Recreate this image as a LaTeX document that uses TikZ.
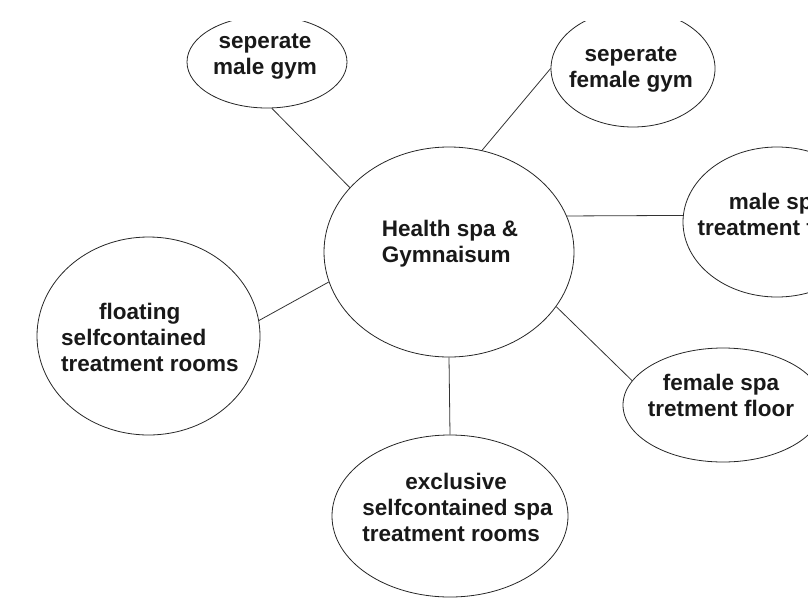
\documentclass[tikz,border=0pt]{standalone}
\usepackage{fontspec}
\setmainfont{Liberation Sans}
\usetikzlibrary{shapes.geometric}

\begin{document}
\begin{tikzpicture}[x=1pt, y=-1pt,
    bubble/.style={ellipse, draw=black!85, line width=0.8pt, inner sep=0pt},
    caption/.style={font=\fontsize{22.5}{26}\selectfont\bfseries, text=black!90, inner sep=0pt},
    link/.style={draw=black!80, line width=0.8pt}]
    \useasboundingbox (0,0) rectangle (808,600);
    \clip (0,21) rectangle (808,600);

    % Hub
    \node (spa) at (449,252) [bubble, minimum width=250pt, minimum height=210pt] {};
    \node (spaT) at (450,243.5) [caption, align=left] {Health spa \&\\Gymnaisum};

    % Gyms
    \node (gymM) at (267,62) [bubble, minimum width=160pt, minimum height=92pt] {};
    \node (gymMT) at (265,56.5) [caption, align=center] {seperate\\male gym};
    \node (gymF) at (633,68.5) [bubble, minimum width=164pt, minimum height=117pt] {};
    \node (gymFT) at (631,70) [caption, align=center] {seperate\\female gym};

    % Spa floors
    \node (spaM) at (777,222) [bubble, minimum width=188pt, minimum height=150pt] {};
    \node (spaMT) at (777,214.5) [caption, align=center] {male spa\\treatment floor};
    \node (spaF) at (723,405) [bubble, minimum width=200pt, minimum height=114pt] {};
    \node (spaFT) at (721,395.5) [caption, align=center] {female spa\\tretment floor};

    % Treatment rooms
    \node (roomsF) at (148.5,336) [bubble, minimum width=223pt, minimum height=198pt] {};
    \node (roomsFT) at (150,337.5) [caption, align=left] {\hspace*{38pt}floating\\selfcontained\\treatment rooms};
    \node (roomsX) at (450,516) [bubble, minimum width=236pt, minimum height=162pt] {};
    \node (roomsXT) at (457.5,507.5) [caption, align=left] {\hspace*{43pt}exclusive\\selfcontained spa\\treatment rooms};

    % Links
    \draw[link] (gymM.-84) -- (spa.147);
    \draw[link] (gymF.180) -- (spa.72);
    \draw[link] (spa.17.5) -- (spaM.176);
    \draw[link] (roomsF.8) -- (spa.-166);
    \draw[link] (spa.-27) -- (spaF.165);
    \draw[link] (spa.south) -- (roomsX.north);
\end{tikzpicture}
\end{document}
